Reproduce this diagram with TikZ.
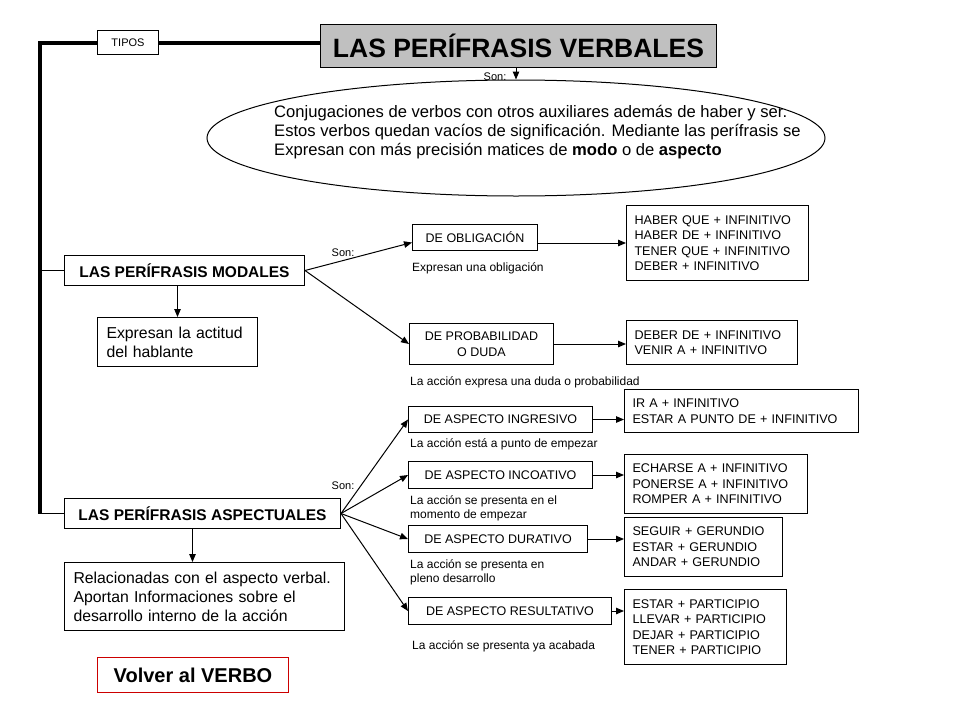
\documentclass[tikz,border=0pt]{standalone}
\usepackage{fontspec}
\setmainfont{Liberation Sans}
\usetikzlibrary{positioning,arrows.meta,shapes.geometric}
\definecolor{Gris}{RGB}{192,192,192}
\definecolor{Rojo}{RGB}{204,0,0}

\begin{document}
\begin{tikzpicture}[x=1pt,y=-1pt,
 b/.style={draw,line width=1pt,anchor=north west,inner ysep=0pt,inner xsep=8pt,align=left,font=\fontsize{12.6}{15.5}\selectfont},
 c/.style={draw,line width=1pt,anchor=north west,inner sep=0pt,align=center,font=\fontsize{12.5}{15.5}\selectfont},
 nota/.style={anchor=west,align=left,inner sep=0pt,font=\fontsize{12}{14}\selectfont},
 son/.style={inner sep=0pt,font=\fontsize{11}{13}\selectfont},
 big/.style={font=\fontsize{15.8}{19}\selectfont,inner xsep=9pt},
 neg/.style={font=\fontsize{15.5}{18}\selectfont\bfseries},
 a/.style={-{Triangle[length=8pt,width=6.5pt]},line width=1pt},
 l/.style={line width=1pt},
 k/.style={line width=4pt}]
\useasboundingbox (0,0) rectangle (960,720);

\node[draw,line width=1pt,fill=Gris,anchor=north west,minimum width=396,minimum height=43,inner sep=0pt,
 font=\fontsize{26.5}{30}\selectfont\bfseries] (verb) at (320,24) {LAS PERÍFRASIS VERBALES};
\node[c,minimum width=61,minimum height=24,font=\fontsize{11}{13}\selectfont] (tipos) at (97,30) {TIPOS};
\node[son] (son0) at (495,77) {Son:};
\node[draw,ellipse,line width=1pt,minimum width=618,minimum height=116,inner sep=0pt] (def) at (516,138) {};
\node[anchor=west,align=left,inner sep=0pt,font=\fontsize{16.6}{19}\selectfont] (deftxt) at (274,132)
 {Conjugaciones de verbos con otros auxiliares además de haber y ser.\\
 Estos verbos quedan vacíos de significación. Mediante las perífrasis se\\
 Expresan con más precisión matices de \textbf{modo} o de \textbf{aspecto}};

% modales
\node[c,neg,minimum width=240,minimum height=30] (mod) at (64,255) {LAS PERÍFRASIS MODALES};
\node[b,big,text width=142,minimum height=49] (actitud) at (97,317) {Expresan la actitud\\del hablante};
\node[son] (son1) at (343,253) {Son:};
\node[c,minimum width=125,minimum height=26] (obl) at (412,224) {DE OBLIGACIÓN};
\node[nota] (oblnota) at (412,268) {Expresan una obligación};
\node[b,text width=166,minimum height=75] (vobl) at (626,205)
 {HABER QUE + INFINITIVO\\HABER DE + INFINITIVO\\TENER QUE + INFINITIVO\\DEBER + INFINITIVO};
\node[c,minimum width=144,minimum height=41] (prob) at (409,323) {DE PROBABILIDAD\\O DUDA};
\node[nota] (probnota) at (410,382) {La acción expresa una duda o probabilidad};
\node[b,text width=155,minimum height=44] (vprob) at (626,320) {DEBER DE + INFINITIVO\\VENIR A + INFINITIVO};

% aspectuales
\node[c,neg,minimum width=276,minimum height=30] (asp) at (64,498) {LAS PERÍFRASIS ASPECTUALES};
\node[b,big,text width=262,minimum height=68] (rel) at (64,562)
 {Relacionadas con el aspecto verbal.\\Aportan Informaciones sobre el\\desarrollo interno de la acción};
\node[draw=Rojo,line width=1pt,anchor=north west,minimum width=191,minimum height=35,inner sep=0pt,
 font=\fontsize{20}{24}\selectfont\bfseries] (volver) at (97,657) {Volver al VERBO};
\node[son] (son2) at (343,486) {Son:};
\node[c,minimum width=184,minimum height=26] (ingr) at (408,406) {DE ASPECTO INGRESIVO};
\node[nota] (ingrnota) at (410,444) {La acción está a punto de empezar};
\node[b,text width=218,minimum height=43] (vingr) at (624,389) {IR A + INFINITIVO\\ESTAR A PUNTO DE + INFINITIVO};
\node[c,minimum width=184,minimum height=27] (inco) at (408,461) {DE ASPECTO INCOATIVO};
\node[nota] (inconota) at (410,508) {La acción se presenta en el\\momento de empezar};
\node[b,text width=167,minimum height=59] (vinco) at (624,454)
 {ECHARSE A + INFINITIVO\\PONERSE A + INFINITIVO\\ROMPER A + INFINITIVO};
\node[c,minimum width=179,minimum height=27] (dur) at (408,525) {DE ASPECTO DURATIVO};
\node[nota] (durnota) at (410,572) {La acción se presenta en\\pleno desarrollo};
\node[b,text width=142,minimum height=59] (vdur) at (624,517) {SEGUIR + GERUNDIO\\ESTAR + GERUNDIO\\ANDAR + GERUNDIO};
\node[c,minimum width=203,minimum height=27] (res) at (408,597) {DE ASPECTO RESULTATIVO};
\node[nota] (resnota) at (412,646) {La acción se presenta ya acabada};
\node[b,text width=146,minimum height=75] (vres) at (624,589)
 {ESTAR + PARTICIPIO\\LLEVAR + PARTICIPIO\\DEJAR + PARTICIPIO\\TENER + PARTICIPIO};

% conectores
\coordinate (esq) at ([xshift=-24pt]asp.west);
\draw[k] (tipos.west) -| (esq);
\draw[k] (tipos.east) -- (tipos.east -| verb.west);
\draw[l] (esq) -- (asp.west);
\draw[l] (esq |- mod.west) -- (mod.west);
\draw[a] (verb.south -| def.north) -- (def.north);
\draw[a] (mod.south -| actitud.north) -- (actitud.north);
\draw[a] ([xshift=-10pt]asp.south) -- ([xshift=-10pt]asp.south |- rel.north);
\draw[a] (mod.east) -- ([yshift=-5pt]obl.west);
\draw[a] (mod.east) -- (prob.west);
\draw[a] (obl.east |- vobl.west) -- (vobl.west);
\draw[a] (prob.east) -- (prob.east -| vprob.west);
\foreach \n in {ingr,inco,dur,res}{
 \draw[a] (asp.east) -- (\n.west);
 \draw[a] (\n.east) -- (\n.east -| v\n.west);
}
\end{tikzpicture}
\end{document}
